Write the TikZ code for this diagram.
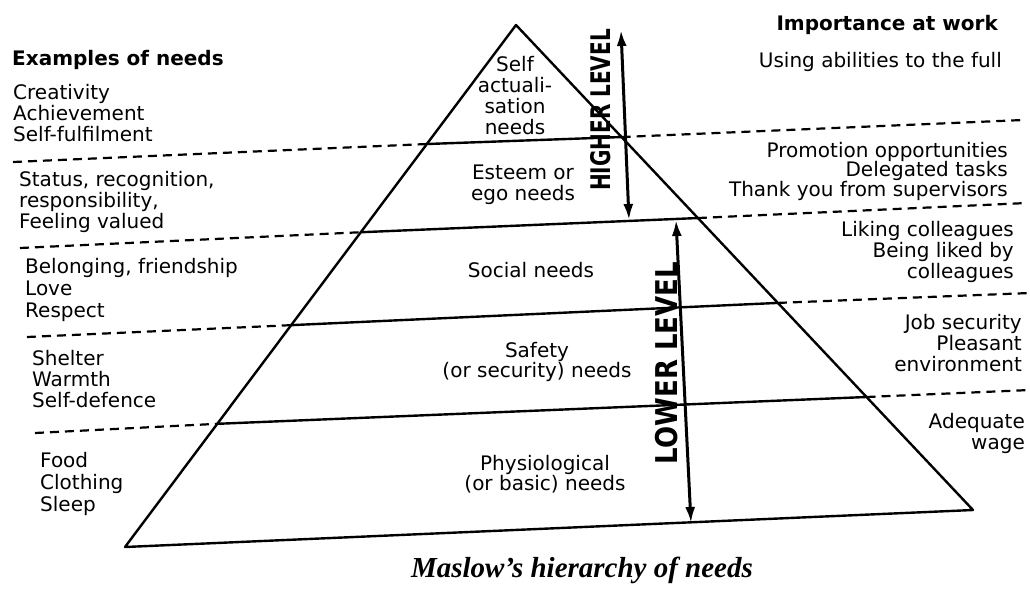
\documentclass[tikz,border=0pt]{standalone}
\usepackage{fontspec}
\setmainfont{DejaVu Sans}
\newfontfamily\capfont{Liberation Serif}
\usetikzlibrary{calc,arrows.meta}

\tikzset{
  pyredge/.style={line width=2.4pt, line join=round},
  guide/.style={line width=2.2pt, dash pattern=on 9pt off 6pt},
  lvlarrow/.style={line width=3pt,
    {Latex[length=16pt,width=10pt]}-{Latex[length=16pt,width=10pt]}},
  txt/.style={inner sep=0pt, font=\fontsize{20}{21}\selectfont},
  headtxt/.style={inner sep=0pt, font=\fontsize{20}{21}\selectfont\bfseries},
  hand/.style={inner sep=0pt, font=\fontsize{20}{21}\selectfont\bfseries, rotate=90},
}

\begin{document}
\begin{tikzpicture}[x=1pt, y=-1pt]
  \useasboundingbox (0,0) rectangle (1030,592);

  % pyramid corners
  \coordinate (apex) at (516,25);
  \coordinate (bl) at (125,547);
  \coordinate (br) at (973,510);

  % where the level lines meet the sides
  \coordinate (l1) at ($(apex)!0.228!(bl)$);
  \coordinate (r1) at ($(apex)!0.231!(br)$);
  \coordinate (l2) at ($(apex)!0.397!(bl)$);
  \coordinate (r2) at ($(apex)!0.398!(br)$);
  \coordinate (l3) at ($(apex)!0.575!(bl)$);
  \coordinate (r3) at ($(apex)!0.573!(br)$);
  \coordinate (l4) at ($(apex)!0.764!(bl)$);
  \coordinate (r4) at ($(apex)!0.767!(br)$);

  % outer ends of the dashed guides
  \coordinate (g1l) at (13,162);  \coordinate (g1r) at (1023,120);
  \coordinate (g2l) at (20,248);  \coordinate (g2r) at (1027,203);
  \coordinate (g3l) at (27,337);  \coordinate (g3r) at (1030,293);
  \coordinate (g4l) at (35,433);  \coordinate (g4r) at (1030,390);

  % pyramid and its levels
  \draw[pyredge] (apex) -- (bl) -- (br) -- cycle;
  \draw[pyredge] (l1) -- (r1);
  \draw[pyredge] (l2) -- (r2);
  \draw[pyredge] (l3) -- (r3);
  \draw[pyredge] (l4) -- (r4);

  % dashed guides out to the example columns
  \draw[guide] (g1l) -- (l1);  \draw[guide] (r1) -- (g1r);
  \draw[guide] (g2l) -- (l2);  \draw[guide] (r2) -- (g2r);
  \draw[guide] (g3l) -- (l3);  \draw[guide] (r3) -- (g3r);
  \draw[guide] (g4l) -- (l4);  \draw[guide] (r4) -- (g4r);

  % level arrows
  \coordinate (hitop) at (621,30);
  \coordinate (hibot) at (629,220);
  \coordinate (lotop) at (676,220);
  \coordinate (lobot) at (691,523);
  \draw[lvlarrow] (hibot) -- (hitop);
  \draw[lvlarrow] (lobot) -- (lotop);
  \node[hand, yscale=1.35] (higher) at (601,110) {HIGHER LEVEL};
  \node[hand, xscale=1.3, yscale=1.5] (lower) at (667,363) {LOWER LEVEL};

  % needs inside the pyramid
  \node[txt, align=center] (selfact) at (515,96)
    {Self\\actuali-\\sation\\needs};
  \node[txt, align=center] (esteem) at (523,185) {Esteem or\\ego needs};
  \node[txt] (social) at (531,270) {Social needs};
  \node[txt, align=center, font=\fontsize{20}{19}\selectfont] (safety) at (537,362)
    {Safety\\(or security) needs};
  \node[txt, align=center, font=\fontsize{20}{19}\selectfont] (physio) at (545,474)
    {Physiological\\(or basic) needs};

  % examples of needs
  \node[headtxt, anchor=west] (exhead) at (12,60) {Examples of needs};
  \node[txt, align=left, anchor=west] (ex1) at (13,113)
    {Creativity\\Achievement\\Self-fulfilment};
  \node[txt, align=left, anchor=west] (ex2) at (19,202)
    {Status, recognition,\\responsibility,\\Feeling valued};
  \node[txt, align=left, anchor=west, font=\fontsize{20}{22}\selectfont] (ex3) at (25,290)
    {Belonging, friendship\\Love\\Respect};
  \node[txt, align=left, anchor=west] (ex4) at (32,379)
    {Shelter\\Warmth\\Self-defence};
  \node[txt, align=left, anchor=west, font=\fontsize{20}{22}\selectfont] (ex5) at (40,484)
    {Food\\Clothing\\Sleep};

  % importance at work
  \node[headtxt, anchor=east] (imphead) at (998,25) {Importance at work};
  \node[txt, anchor=east] (imp1) at (1002,62) {Using abilities to the full};
  \node[txt, align=right, anchor=east, font=\fontsize{20}{19.5}\selectfont] (imp2) at (1008,171)
    {Promotion opportunities\\Delegated tasks\\Thank you from supervisors};
  \node[txt, align=right, anchor=east] (imp3) at (1014,252)
    {Liking colleagues\\Being liked by\\colleagues};
  \node[txt, align=right, anchor=east] (imp4) at (1022,343)
    {Job security\\Pleasant\\environment};
  \node[txt, align=right, anchor=east] (imp5) at (1025,433)
    {Adequate\\wage};

  % caption
  \node[inner sep=0pt, font=\capfont\fontsize{29}{30}\selectfont\bfseries\itshape]
    (caption) at (582,570) {Maslow’s hierarchy of needs};
\end{tikzpicture}
\end{document}
